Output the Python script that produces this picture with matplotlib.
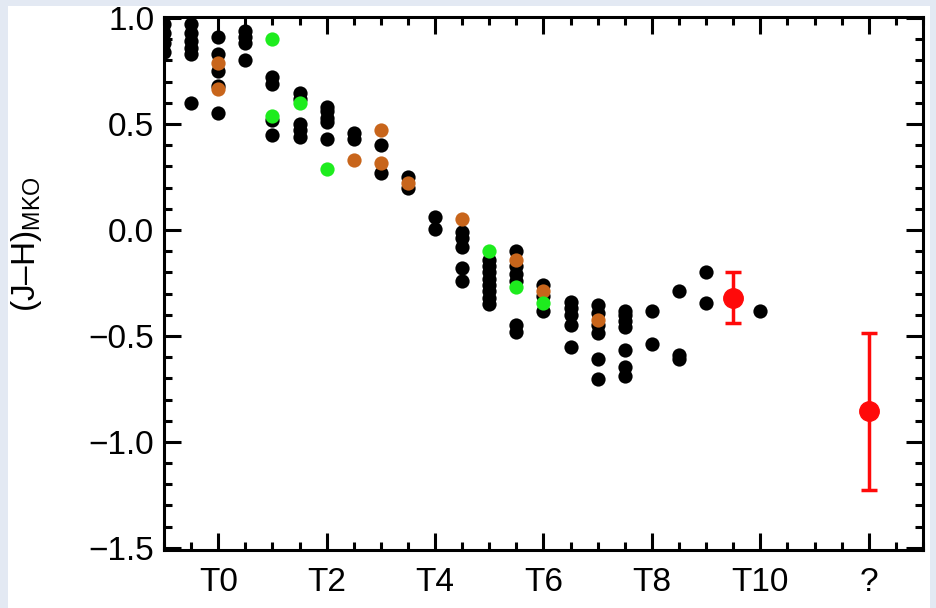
import matplotlib
matplotlib.use("Agg")
import matplotlib.pyplot as plt
from matplotlib.patches import Rectangle
from matplotlib.ticker import MultipleLocator

plt.rcParams['font.family'] = ['Liberation Sans', 'DejaVu Sans']
plt.rcParams['mathtext.fontset'] = 'custom'
plt.rcParams['mathtext.rm'] = 'Liberation Sans'

# spectral type (T0 = 0, L9 = -1) and (J-H) colour
spt_black = ([-1] * 4 + [-0.5] * 6 + [0] * 5 + [0.5] * 4 + [1] * 4 + [1.5] * 5
             + [2] * 5 + [2.5] * 2 + [3] * 2 + [3.5] * 2 + [4] * 2 + [4.5] * 5
             + [5] * 8 + [5.5] * 6 + [6] * 3 + [6.5] * 5 + [7] * 6 + [7.5] * 7
             + [8] * 2 + [8.5] * 3 + [9] * 2 + [10])
jh_black = [0.97, 0.93, 0.88, 0.84,
            0.97, 0.93, 0.89, 0.86, 0.83, 0.60,
            0.91, 0.83, 0.75, 0.68, 0.55,
            0.94, 0.91, 0.88, 0.80,
            0.72, 0.69, 0.52, 0.45,
            0.645, 0.62, 0.50, 0.47, 0.44,
            0.58, 0.56, 0.53, 0.51, 0.43,
            0.46, 0.43,
            0.40, 0.27,
            0.25, 0.20,
            0.06, 0.005,
            -0.01, -0.04, -0.08, -0.18, -0.24,
            -0.14, -0.17, -0.20, -0.23, -0.26, -0.29, -0.32, -0.35,
            -0.10, -0.17, -0.21, -0.24, -0.45, -0.48,
            -0.26, -0.31, -0.38,
            -0.34, -0.37, -0.40, -0.45, -0.55,
            -0.355, -0.39, -0.45, -0.485, -0.61, -0.705,
            -0.38, -0.40, -0.43, -0.46, -0.565, -0.645, -0.69,
            -0.38, -0.54,
            -0.29, -0.59, -0.61,
            -0.20, -0.345,
            -0.38]

spt_orange = [0, 0, 2.5, 3, 3, 3.5, 4.5, 5.5, 6, 7]
jh_orange = [0.79, 0.665, 0.33, 0.47, 0.315, 0.22, 0.05, -0.14, -0.29, -0.425]

spt_green = [1, 1, 1.5, 2, 5, 5.5, 6]
jh_green = [0.90, 0.54, 0.60, 0.29, -0.10, -0.27, -0.345]

spt_red = [9.5, 12]
jh_red = [-0.32, -0.855]
jh_red_err = [0.12, 0.37]

tick_pos = [0, 2, 4, 6, 8, 10, 12]
tick_lab = ['T0', 'T2', 'T4', 'T6', 'T8', 'T10', '?']

fig = plt.figure(figsize=(9.37, 6.08), dpi=100)
fig.patch.set_facecolor('#e3e9f3')
fig.patches.append(Rectangle((8 / 937, 0), 922 / 937, 602 / 608,
                             transform=fig.transFigure, facecolor='white',
                             edgecolor='none', zorder=-10))

ax = fig.add_axes([164 / 937, 58 / 608, 759 / 937, 533 / 608])
ax.set_facecolor('white')

ax.scatter(spt_black, jh_black, s=105, color='black', lw=0, zorder=3)
ax.scatter(spt_orange, jh_orange, s=105, color='#c8651b', lw=0, zorder=4)
ax.scatter(spt_green, jh_green, s=105, color='#1eec1e', lw=0, zorder=5)
ax.errorbar(spt_red, jh_red, yerr=jh_red_err, fmt='o', color='#ff0a0a',
            ms=14, elinewidth=2.5, capsize=6, capthick=2.5, zorder=6)

ax.set_xlim(-1, 13)
ax.set_ylim(-1.51, 1.005)
ax.set_xticks(tick_pos)
ax.set_xticklabels(tick_lab)
ax.xaxis.set_minor_locator(MultipleLocator(0.5))
ax.set_yticks([-1.5, -1.0, -0.5, 0.0, 0.5, 1.0])
ax.set_yticklabels(['\u22121.5', '\u22121.0', '\u22120.5', '0.0', '0.5', '1.0'])
ax.yaxis.set_minor_locator(MultipleLocator(0.1))

for s in ax.spines.values():
    s.set_linewidth(2.2)
ax.tick_params(which='both', direction='in', top=True, right=True,
               labelsize=24, width=2.2, colors='black')
ax.tick_params(which='major', length=12)
ax.tick_params(which='minor', length=6)
ax.tick_params(axis='x', which='major', pad=12)
ax.tick_params(axis='y', which='major', pad=7)

ax.set_ylabel('(J\u2013H)$_{\\rm MKO}$', fontsize=24)
ax.yaxis.set_label_coords(-0.158, 0.575)

fig.savefig('out.png', dpi=100, facecolor=fig.get_facecolor())
